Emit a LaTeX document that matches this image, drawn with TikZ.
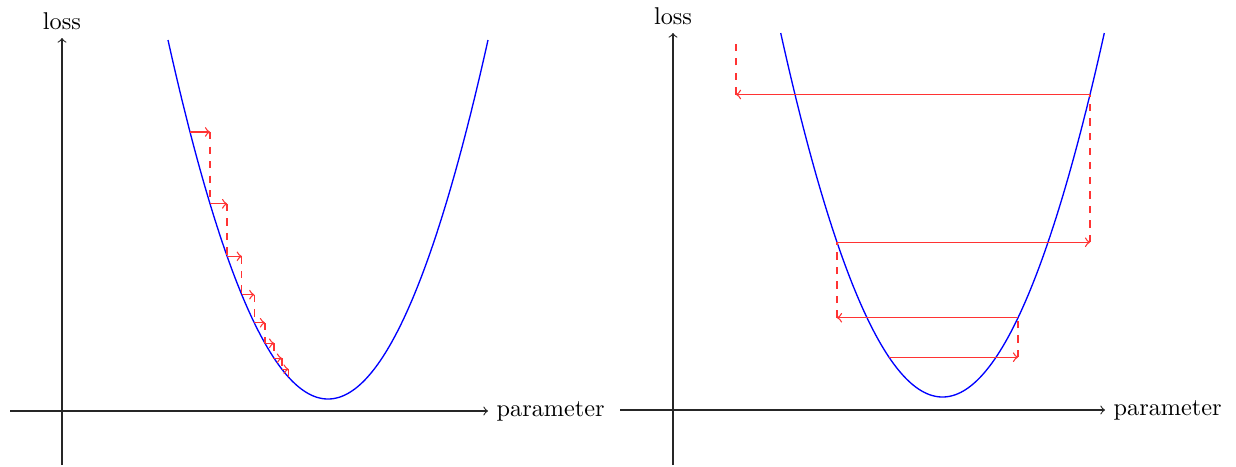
\documentclass[tikz,border=0pt]{standalone}
\begin{document}
\begin{tikzpicture}[x=0.412pt,y=-0.412pt,
  axis/.style={->,line width=0.45pt,black!85},
  curve/.style={blue,line width=0.55pt},
  stepline/.style={red!80,line width=0.55pt,->},
  drop/.style={red!80,line width=0.55pt,dashed}]
\useasboundingbox (0,0) rectangle (1236,466);
% ---------- left panel ----------
\draw[axis] (10,411) -- (488,411) node[right,black] (paramL) {parameter};
\draw[axis] (62,465) -- (62,38) node[above,black] (lossL) {loss};
\draw[curve] plot[domain=168:488,samples=150] (\x,{399-359*((\x-328)/160)*((\x-328)/160)});
\foreach \i in {0,...,7}{
  \pgfmathsetmacro\xa{328-138*0.855^\i}
  \pgfmathsetmacro\xb{328-138*0.855^(\i+1)}
  \pgfmathsetmacro\ya{399-359*((\xa-328)/160)*((\xa-328)/160)}
  \pgfmathsetmacro\yb{399-359*((\xb-328)/160)*((\xb-328)/160)}
  \draw[stepline] (\xa,\ya) -- (\xb,\ya);
  \draw[drop] (\xb,\ya) -- (\xb,\yb);
}
% ---------- right panel ----------
\draw[axis] (620,410) -- (1105,410) node[right,black] (paramR) {parameter};
\draw[axis] (673,465) -- (673,33) node[above,black] (lossR) {loss};
\draw[curve] plot[domain=780.7:1104.3,samples=150] (\x,{397-364*((\x-942.5)/161.8)*((\x-942.5)/161.8)});
\foreach \xa/\xb in {889/1018,1018/837,837/1090,1090/736}{
  \pgfmathsetmacro\ya{397-364*((\xa-942.5)/161.8)*((\xa-942.5)/161.8)}
  \pgfmathsetmacro\yb{max(40,397-364*((\xb-942.5)/161.8)*((\xb-942.5)/161.8))}
  \draw[stepline] (\xa,\ya) -- (\xb,\ya);
  \draw[drop] (\xb,\ya) -- (\xb,\yb);
}
\end{tikzpicture}
\end{document}
